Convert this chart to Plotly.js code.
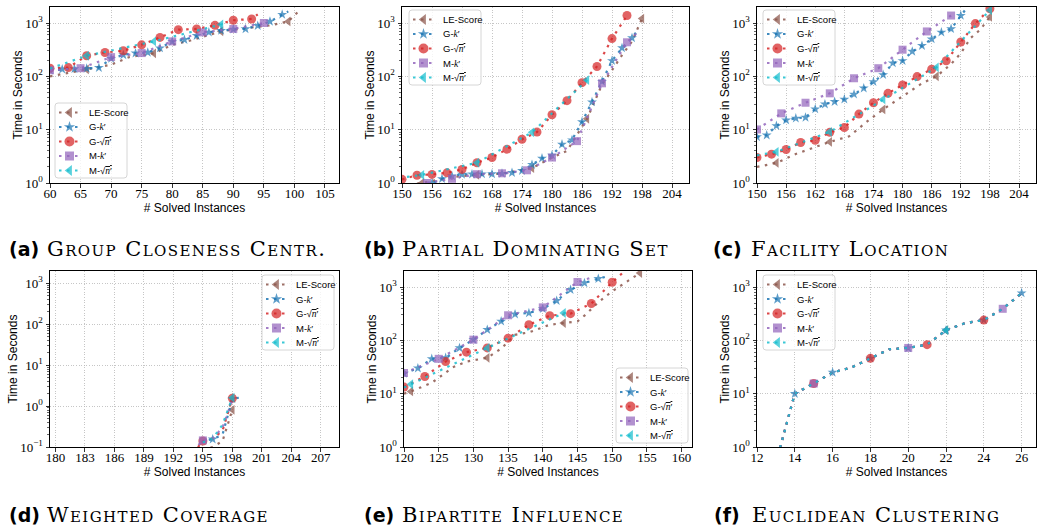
<!DOCTYPE html>
<html><head><meta charset="utf-8">
<script src="https://cdn.plot.ly/plotly-3.0.1.min.js"></script>
<style>html,body{margin:0;padding:0;background:#fff}</style>
</head><body><div id="chart" style="width:1038px;height:529px"></div>
<script>
// ---------------- data ----------------
const seriesNames = ['LE-Score', 'G-k′', 'G-√n′', 'M-k′', 'M-√n′'];
const yTickVals = [0.1, 1, 10, 100, 1000];
const yTickText = ['10<sup>−1</sup>', '10<sup>0</sup>', '10<sup>1</sup>', '10<sup>2</sup>', '10<sup>3</sup>'];
const captionTags = ['(a)', '(b)', '(c)', '(d)', '(e)', '(f)'];
const captionTitles = ['Group Closeness Centr.', 'Partial Dominating Set', 'Facility Location',
                       'Weighted Coverage', 'Bipartite Influence', 'Euclidean Clustering'];

// (a) Group Closeness Centrality
const A_LE_x = [60,63,66,70,73,77,80,83,88,92,96,99,101];
const A_LE_y = [100,115,135,165,230,270,390,470,700,800,900,1070,1800];
const A_GK_x = [60,62,64,66,68,70,72,74,76,78,80,82,84,86,88,90,92,94,96,98,99];
const A_GK_y = [130,136,138,140,145,215,252,272,280,338,450,486,577,668,720,760,775,890,1070,1440,1650];
const A_GN_x = [60,63,66,69,72,75,78,81,84,87,90,93,94];
const A_GN_y = [142,146,243,280,302,390,537,750,775,905,1125,1190,1450];
const A_MK_x = [60,65,70,75,80,85,90,95];
const A_MK_y = [130,142,229,273,452,668,775,1000];
const A_MN_x = [60,66,77,88,89];
const A_MN_y = [140,243,452,940,1000];

// (b) Partial Dominating Set
const B_LE_x = [153,154,160,165,170,176,180,183,187,190,192,194,196,198];
const B_LE_y = [0.97,1.0,1.3,1.42,1.5,1.9,3.0,4.0,16,70,130,250,450,1210];
const B_GK_x = [155,156,158,160,162,164,166,168,170,172,174,176,178,180,182,184,186,188,190,192,194,196,197];
const B_GK_y = [0.9,1.0,1.2,1.35,1.45,1.46,1.47,1.48,1.5,1.56,1.7,2.2,2.9,3.3,5.3,6.4,14,33,80,196,340,525,700];
const B_GN_x = [150,153,156,159,162,165,168,171,174,177,180,183,186,189,192,195];
const B_GN_y = [1.17,1.4,1.45,1.55,1.8,2.4,3.0,4.3,6.6,9.0,19,35,76,153,510,1380];
const B_MK_x = [155,160,165,170,175,180,185,190,195,197];
const B_MK_y = [1.0,1.2,1.46,1.52,1.73,3.0,6.1,74,435,650];
const B_MN_x = [151,154,165,176,187,188];
const B_MN_y = [1.3,1.42,2.4,8.9,85,100];

// (c) Facility Location
const C_LE_x = [150,154,158,162,165,169,173,176,179,182,184,187,190,192,194,196,198];
const C_LE_y = [2.0,2.38,3.5,4.8,5.9,7.5,15,24,37,55,74,100,170,270,520,750,1300];
const C_GK_x = [150,152,154,156,158,160,162,164,166,168,170,172,174,176,178,180,182,184,186,188,190,192,193];
const C_GK_y = [7.3,7.9,11.8,15.1,16.3,17,24.4,30,33.5,37,46,60,79,107,177,196,293,375,500,668,776,1380,1800];
const C_GN_x = [150,153,156,159,162,165,168,171,174,177,180,183,186,189,192,195,198];
const C_GN_y = [3.0,3.47,4.25,5.75,6.3,8.9,11,19.6,32,48,69,99,136,196,440,975,1850];
const C_MK_x = [150,155,160,165,170,175,180,185,190];
const C_MK_y = [10.1,20.2,32,48,92,142,316,695,1380];
const C_MN_x = [150,154,165,176,187,198];
const C_MN_y = [3.3,3.84,9.1,37,147,1740];

// (d) Weighted Coverage
const D_LE_x = [195,196,197,198];
const D_LE_y = [0.085,0.1,0.14,0.81];
const D_GK_x = [194,195,196,197,198,199];
const D_GK_y = [0.06,0.14,0.155,0.2,1.5,1.65];
const D_GN_x = [194,195,196,197,198];
const D_GN_y = [0.07,0.14,0.16,0.25,1.55];
const D_MK_x = [194,195,196,197,198];
const D_MK_y = [0.08,0.145,0.16,0.3,1.4];
const D_MN_x = [195,196,197,198];
const D_MN_y = [0.13,0.16,0.35,1.6];

// (e) Bipartite Influence
const E_LE_x = [120,121,124,127,129,132,134,136,138,141,143,145,146,148,150,152,154];
const E_LE_y = [10,11,16,31,40,47,70,127,141,196,211,227,290,515,830,1230,1830];
const E_GK_x = [120,122,124,126,128,130,132,134,136,138,140,142,144,146,148,149];
const E_GK_y = [24,30,45,47,72,103,158,227,310,325,390,554,890,1190,1430,1550];
const E_GN_x = [120,123,126,129,132,135,138,141,144,147,150,152];
const E_GN_y = [13.3,21,40,60,72,110,196,290,316,490,1230,2100];
const E_MK_x = [120,125,130,135,140,145,147];
const E_MK_y = [24.4,45,103,295,415,1240,1500];
const E_MN_x = [120,121,132,143,144];
const E_MN_y = [13,15,72,325,330];

// (f) Euclidean Clustering (all five curves coincide)
const F_LE_x = [13,14,15,16,17,18,19,20,21,22,23,24,25,26];
const F_LE_y = [0.5,10,15.5,25,31,46,68,72,83,155,210,240,390,770];
const F_GK_x = F_LE_x, F_GK_y = F_LE_y;
const F_GN_x = F_LE_x, F_GN_y = F_LE_y;
const F_MK_x = F_LE_x, F_MK_y = F_LE_y;
const F_MN_x = F_LE_x, F_MN_y = F_LE_y;

// ---------------- style ----------------
const W = 1038, H = 529;
const colors = ['#8c564b', '#1f77b4', '#d62728', '#9467bd', '#17becf'];
const symbols = ['triangle-left', 'star', 'circle', 'square', 'triangle-left'];
const msizes = [8.5, 7.5, 9, 8, 8.5];
const markEvery = [11, 2, 3, 5, 11];
const legendLabels = [
  'LE-Score',
  'G-<span style="font-family:Liberation Serif;font-style:italic">k</span>′',
  'G-√<span style="text-decoration:overline"><span style="font-family:Liberation Serif;font-style:italic">n</span>′</span>',
  'M-<span style="font-family:Liberation Serif;font-style:italic">k</span>′',
  'M-√<span style="text-decoration:overline"><span style="font-family:Liberation Serif;font-style:italic">n</span>′</span>'
];

const panels = [
  {xd:[50,339],  yd:[7,183],   xr:[60,107.3],     t0:60,  dt:5, yr:[0,3.3],  leg:[55,103],
   data:[[A_LE_x,A_LE_y],[A_GK_x,A_GK_y],[A_GN_x,A_GN_y],[A_MK_x,A_MK_y],[A_MN_x,A_MN_y]]},
  {xd:[402,689], yd:[7,183],   xr:[150,207.4],    t0:150, dt:6, yr:[0,3.3],  leg:[409,10],
   data:[[B_LE_x,B_LE_y],[B_GK_x,B_GK_y],[B_GN_x,B_GN_y],[B_MK_x,B_MK_y],[B_MN_x,B_MN_y]]},
  {xd:[757,1036],yd:[7,183],   xr:[150,207.5],    t0:150, dt:6, yr:[0,3.3],  leg:[763,10],
   data:[[C_LE_x,C_LE_y],[C_GK_x,C_GK_y],[C_GN_x,C_GN_y],[C_MK_x,C_MK_y],[C_MN_x,C_MN_y]]},
  {xd:[50,339],  yd:[271,447], xr:[179.45,208.85],t0:180, dt:3, yr:[-1,3.3], leg:[262,275],
   data:[[D_LE_x,D_LE_y],[D_GK_x,D_GK_y],[D_GN_x,D_GN_y],[D_MK_x,D_MK_y],[D_MN_x,D_MN_y]]},
  {xd:[404,692], yd:[271,447], xr:[120,161.5],    t0:120, dt:5, yr:[0,3.3],  leg:[616,368],
   data:[[E_LE_x,E_LE_y],[E_GK_x,E_GK_y],[E_GN_x,E_GN_y],[E_MK_x,E_MK_y],[E_MN_x,E_MN_y]]},
  {xd:[757,1036],yd:[271,447], xr:[12,26.76],     t0:12,  dt:2, yr:[0,3.3],  leg:[763,275],
   data:[[F_LE_x,F_LE_y],[F_GK_x,F_GK_y],[F_GN_x,F_GN_y],[F_MK_x,F_MK_y],[F_MN_x,F_MN_y]]}
];
const captionPos = [[7,249],[362,249],[711,249],[7,515],[362,515],[712,515]];

function rgba(hex, a) {
  const n = parseInt(hex.slice(1), 16);
  return 'rgba(' + (n >> 16) + ',' + ((n >> 8) & 255) + ',' + (n & 255) + ',' + a + ')';
}
const DOT = '2.5px,5.5px';
const GRIDDASH = '1px,1.6px';

const traces = [];
const layout = {
  width: W, height: H, margin: {l:0, r:0, t:0, b:0},
  paper_bgcolor: '#ffffff', plot_bgcolor: 'rgba(0,0,0,0)',
  showlegend: false, annotations: [], shapes: [],
  font: {family: 'Liberation Sans', color: '#000'}
};

panels.forEach((p, i) => {
  const sx = i === 0 ? '' : String(i + 1);
  const xa = 'x' + sx, ya = 'y' + sx;
  const minorVals = [];
  for (let d = Math.floor(p.yr[0]); d <= 3; d++)
    for (let k = 2; k <= 9; k++) {
      const v = k * Math.pow(10, d);
      if (Math.log10(v) <= p.yr[1]) minorVals.push(v);
    }
  const tv = [], tt = [];
  yTickVals.forEach((v, k) => {
    const lv = Math.log10(v);
    if (lv >= p.yr[0] - 1e-6 && lv <= p.yr[1]) { tv.push(v); tt.push(yTickText[k]); }
  });
  layout['xaxis' + sx] = {
    domain: [p.xd[0] / W, p.xd[1] / W], anchor: ya, range: p.xr,
    tickmode: 'linear', tick0: p.t0, dtick: p.dt,
    ticks: 'outside', ticklen: 3.5, tickwidth: 0.8, tickcolor: '#000', ticklabelstandoff: -5,
    showline: true, mirror: true, linecolor: '#000', linewidth: 1,
    showgrid: true, gridcolor: '#b8b8b8', griddash: GRIDDASH, gridwidth: 0.8, zeroline: false,
    tickfont: {family: 'Liberation Serif', size: 13, color: '#000'},
    title: {text: '# Solved Instances', font: {family: 'Liberation Sans', size: 12, color: '#000'}, standoff: 2},
    fixedrange: true
  };
  layout['yaxis' + sx] = {
    domain: [1 - p.yd[1] / H, 1 - p.yd[0] / H], anchor: xa, type: 'log', range: p.yr,
    tickmode: 'array', tickvals: tv, ticktext: tt,
    ticks: 'outside', ticklen: 3.5, tickwidth: 0.8, tickcolor: '#000',
    minor: {tickmode: 'array', tickvals: minorVals, ticks: 'outside', ticklen: 2, tickwidth: 0.6, tickcolor: '#000', showgrid: false},
    showline: true, mirror: true, linecolor: '#000', linewidth: 1,
    showgrid: true, gridcolor: '#b8b8b8', griddash: GRIDDASH, gridwidth: 0.8, zeroline: false,
    tickfont: {family: 'Liberation Serif', size: 13, color: '#000'},
    title: {text: 'Time in Seconds', font: {family: 'Liberation Sans', size: 12, color: '#000'}, standoff: 0},
    fixedrange: true
  };
  p.data.forEach((s, j) => {
    const X = s[0], Y = s[1];
    traces.push({type: 'scatter', mode: 'lines', x: X, y: Y, xaxis: xa, yaxis: ya,
      line: {color: rgba(colors[j], 0.85), width: 2.2, dash: DOT}, hoverinfo: 'skip'});
    const mx = [], my = [];
    X.forEach((v, k) => { if (v % markEvery[j] === 0) { mx.push(v); my.push(Y[k]); } });
    traces.push({type: 'scatter', mode: 'markers', x: mx, y: my, xaxis: xa, yaxis: ya,
      marker: {symbol: symbols[j], size: msizes[j], color: colors[j], opacity: 0.72, line: {width: 0}}});
  });

  // ---- custom legend (pixel overlay axes x7/y7) ----
  const L = p.leg[0], T = p.leg[1], bw = 72, bh = 75, r = 3;
  layout.shapes.push({
    type: 'path', xref: 'x7', yref: 'y7', layer: 'below',
    path: 'M' + (L + r) + ',' + T + ' H' + (L + bw - r) + ' Q' + (L + bw) + ',' + T + ' ' + (L + bw) + ',' + (T + r) +
          ' V' + (T + bh - r) + ' Q' + (L + bw) + ',' + (T + bh) + ' ' + (L + bw - r) + ',' + (T + bh) +
          ' H' + (L + r) + ' Q' + L + ',' + (T + bh) + ' ' + L + ',' + (T + bh - r) +
          ' V' + (T + r) + ' Q' + L + ',' + T + ' ' + (L + r) + ',' + T + ' Z',
    fillcolor: 'rgba(255,255,255,0.8)', line: {color: '#cccccc', width: 0.8}
  });
  seriesNames.forEach((nm, j) => {
    const yy = T + 9.5 + j * 14.5;
    traces.push({type: 'scatter', mode: 'lines', x: [L + 4, L + 25], y: [yy, yy], xaxis: 'x7', yaxis: 'y7',
      line: {color: rgba(colors[j], 0.85), width: 2.2, dash: DOT}, hoverinfo: 'skip', cliponaxis: false});
    traces.push({type: 'scatter', mode: 'markers', x: [L + 14.5], y: [yy], xaxis: 'x7', yaxis: 'y7',
      marker: {symbol: symbols[j], size: msizes[j] + 1, color: colors[j], opacity: 0.72}, hoverinfo: 'skip', cliponaxis: false});
    layout.annotations.push({
      xref: 'paper', yref: 'paper', x: (L + 32) / W, y: 1 - yy / H, xanchor: 'left', yanchor: 'middle',
      showarrow: false, text: legendLabels[j], font: {family: 'Liberation Sans', size: 9.5, color: '#000'}
    });
  });

  // ---- caption ----
  const cx = captionPos[i][0], cy = captionPos[i][1];
  layout.annotations.push({
    xref: 'paper', yref: 'paper', x: cx / W, y: 1 - cy / H, xanchor: 'left', yanchor: 'middle',
    showarrow: false, text: '<b>' + captionTags[i] + '</b>',
    font: {family: 'DejaVu Sans', size: 19, color: '#000'}
  });
  layout.annotations.push({
    xref: 'paper', yref: 'paper', x: (cx + 38) / W, y: 1 - cy / H, xanchor: 'left', yanchor: 'middle',
    showarrow: false, text: '<span style="letter-spacing:1.4px">' + captionTitles[i] + '</span>',
    font: {family: 'DejaVu Serif', size: 21, color: '#000', variant: 'small-caps'}
  });
});

layout.xaxis7 = {domain: [0, 1], range: [0, W], visible: false, fixedrange: true, anchor: 'y7'};
layout.yaxis7 = {domain: [0, 1], range: [H, 0], visible: false, fixedrange: true, anchor: 'x7'};

Plotly.newPlot('chart', traces, layout, {staticPlot: true, displayModeBar: false});
</script></body></html>
